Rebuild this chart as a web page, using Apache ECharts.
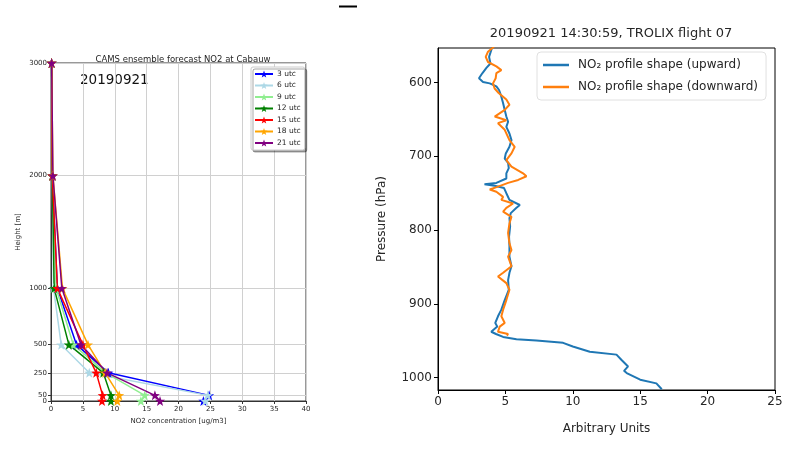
<!DOCTYPE html>
<html><head><meta charset="utf-8">
<script src="https://cdn.jsdelivr.net/npm/echarts@6/dist/echarts.min.js"></script>
<style>html,body{margin:0;padding:0;background:#fff}#c{width:801px;height:450px}</style>
</head><body><div id="c"></div>
<script>
// ---------- Left panel data (CAMS forecast) ----------
const heights = [0, 50, 250, 500, 1000, 2000, 3000];
const heightTicks = [0, 50, 250, 500, 1000, 2000, 3000];
const heightLabelsMain = [0, 250, 500, 1000, 2000, 3000];
const heightLabelsExtra = [50];
const camsNames = ['3 utc', '6 utc', '9 utc', '12 utc', '15 utc', '18 utc', '21 utc'];
const utc03 = [23.9, 24.8, 9.0, 4.0, 1.0, 0.2, 0.1];
const utc06 = [24.2, 24.6, 6.0, 1.6, 0.4, 0.2, 0.1];
const utc09 = [14.1, 14.7, 8.6, 3.5, 0.8, 0.2, 0.1];
const utc12 = [9.4, 9.4, 8.2, 2.8, 0.5, 0.2, 0.1];
const utc15 = [8.0, 8.1, 7.1, 5.0, 1.0, 0.2, 0.1];
const utc18 = [10.4, 10.7, 8.5, 5.8, 1.8, 0.3, 0.1];
const utc21 = [17.1, 16.3, 8.8, 4.7, 1.7, 0.3, 0.1];
const camsValues = [utc03, utc06, utc09, utc12, utc15, utc18, utc21];
const camsColors = ['#0000ff', '#add8e6', '#90ee90', '#008000', '#ff0000', '#ffa500', '#800080'];

// ---------- Right panel data (TROLIX profile) ----------
const pressureTicks = [600, 700, 800, 900, 1000];
const upP = [550, 553, 565, 574, 580, 587, 594, 599, 601, 605, 610, 619, 628, 637, 646, 653, 660, 669, 678, 687, 696, 703, 709, 716, 723, 730, 736, 738, 740, 743, 750, 759, 766, 770, 777, 784, 795, 809, 822, 836, 849, 858, 868, 881, 895, 908, 917, 926, 931, 938, 941, 945, 948, 950, 953, 958, 965, 969, 976, 985, 991, 994, 1003, 1008, 1016];
const upV = [4.1, 4.0, 3.79, 3.89, 3.59, 3.3, 3.04, 3.34, 3.84, 4.33, 4.53, 4.7, 4.83, 4.95, 5.07, 5.2, 5.07, 5.3, 5.45, 5.3, 5.03, 4.95, 5.2, 5.25, 5.07, 5.07, 4.33, 3.45, 4.2, 4.9, 5.07, 5.3, 6.07, 5.8, 5.4, 5.3, 5.35, 5.27, 5.3, 5.3, 5.45, 5.3, 5.2, 5.25, 4.95, 4.7, 4.45, 4.25, 4.4, 3.95, 4.3, 4.83, 5.82, 7.3, 9.28, 10.0, 11.26, 13.24, 13.6, 14.1, 13.8, 14.0, 15.0, 16.2, 16.6];
const downP = [550, 553, 558, 565, 572, 578, 583, 587, 594, 601, 608, 614, 623, 630, 637, 646, 651, 655, 664, 678, 687, 696, 705, 714, 723, 727, 732, 736, 741, 745, 748, 755, 759, 764, 770, 775, 782, 791, 804, 818, 827, 836, 849, 858, 863, 872, 881, 895, 908, 917, 926, 931, 938, 941, 943];
const downV = [4.2, 4.03, 3.71, 3.54, 3.71, 4.33, 4.7, 4.33, 4.28, 4.08, 4.2, 4.5, 5.07, 5.3, 4.95, 4.21, 5.07, 4.45, 4.95, 5.3, 5.69, 5.45, 5.07, 5.45, 6.31, 6.56, 5.95, 5.2, 4.45, 3.84, 4.33, 4.83, 4.7, 5.57, 5.07, 4.83, 5.45, 5.3, 5.2, 5.3, 5.45, 5.2, 5.45, 4.83, 4.45, 5.07, 5.3, 5.07, 4.83, 4.7, 4.95, 4.58, 4.45, 5.2, 5.1];
const profileNames = ['NO\u2082 profile shape (upward)', 'NO\u2082 profile shape (downward)'];

// star symbol path
function starPath() {
  const pts = [];
  for (let i = 0; i < 10; i++) {
    const a = -Math.PI / 2 + i * Math.PI / 5;
    const r = i % 2 === 0 ? 50 : 20;
    pts.push((50 + r * Math.cos(a)).toFixed(2) + ' ' + (50 + r * Math.sin(a)).toFixed(2));
  }
  return 'path://M' + pts.join(' L') + ' Z';
}
const STAR = starPath();
const FONT = 'DejaVu Sans';
const TXT = '#262626';
const plain = v => String(v);

const chart = echarts.init(document.getElementById('c'), null, {renderer: 'canvas'});

const series = [];
camsNames.forEach((n, k) => {
  series.push({
    name: n, type: 'line', xAxisIndex: 0, yAxisIndex: 0,
    data: heights.map((h, i) => [camsValues[k][i], h]),
    symbol: STAR, symbolSize: 10, showSymbol: true,
    lineStyle: {width: 1.5, color: camsColors[k]},
    itemStyle: {color: camsColors[k]},
    emphasis: {disabled: true}, animation: false
  });
});
series.push({
  name: profileNames[0], type: 'line', xAxisIndex: 1, yAxisIndex: 1,
  data: upP.map((p, i) => [upV[i], p]), showSymbol: false, symbol: 'none',
  lineStyle: {width: 2, color: '#1f77b4'}, itemStyle: {color: '#1f77b4'}, animation: false
});
series.push({
  name: profileNames[1], type: 'line', xAxisIndex: 1, yAxisIndex: 1,
  data: downP.map((p, i) => [downV[i], p]), showSymbol: false, symbol: 'none',
  lineStyle: {width: 2, color: '#ff7f0e'}, itemStyle: {color: '#ff7f0e'}, animation: false
});

const option = {
  animation: false,
  textStyle: {fontFamily: FONT},
  title: [
    {text: 'CAMS ensemble forecast NO2 at Cabauw', left: 178, top: 50, textAlign: 'center',
     textStyle: {fontFamily: FONT, fontSize: 8.5, fontWeight: 'normal', color: TXT}},
    {text: '20190921 14:30:59, TROLIX flight 07', left: 606, top: 22, textAlign: 'center',
     textStyle: {fontFamily: FONT, fontSize: 13, fontWeight: 'normal', color: TXT}}
  ],
  grid: [
    {left: 51, top: 63, width: 255, height: 338, show: true, borderColor: '#333', borderWidth: 1, backgroundColor: 'transparent'},
    {left: 438, top: 48, width: 337, height: 342, show: true, borderColor: '#000', borderWidth: 1, backgroundColor: 'transparent'}
  ],
  xAxis: [
    {type: 'value', gridIndex: 0, min: 0, max: 40, interval: 5,
     name: 'NO2 concentration [ug/m3]', nameLocation: 'middle', nameGap: 17,
     nameTextStyle: {fontSize: 7, color: TXT, fontFamily: FONT},
     axisLine: {lineStyle: {color: '#333', width: 1}},
     axisTick: {show: true, length: 3, lineStyle: {color: '#333'}},
     axisLabel: {fontSize: 7, color: TXT, margin: 5, fontFamily: FONT, formatter: plain},
     splitLine: {show: true, lineStyle: {color: '#d0d0d0', width: 1}}},
    {type: 'value', gridIndex: 1, min: 0, max: 25, interval: 5,
     name: 'Arbitrary Units', nameLocation: 'middle', nameGap: 33,
     nameTextStyle: {fontSize: 12, color: TXT, fontFamily: FONT},
     axisLine: {lineStyle: {color: '#000', width: 1}},
     axisTick: {show: true, length: 4, lineStyle: {color: '#000'}},
     axisLabel: {fontSize: 12, color: TXT, margin: 6, fontFamily: FONT, formatter: plain},
     splitLine: {show: false}}
  ],
  yAxis: [
    {type: 'value', gridIndex: 0, min: 0, max: 3000,
     name: 'Height [m]', nameLocation: 'middle', nameGap: 29, nameRotate: 90,
     nameTextStyle: {fontSize: 7, color: TXT, fontFamily: FONT},
     axisLine: {show: true, lineStyle: {color: '#333', width: 1}},
     axisTick: {show: true, length: 3, customValues: heightTicks, lineStyle: {color: '#333'}},
     axisLabel: {fontSize: 7, color: TXT, margin: 4, customValues: heightLabelsMain, fontFamily: FONT,
                 formatter: plain, hideOverlap: false, showMinLabel: true, showMaxLabel: true},
     splitLine: {show: true, lineStyle: {color: '#d0d0d0', width: 1}}},
    {type: 'value', gridIndex: 1, min: 553, max: 1017, inverse: true,
     name: 'Pressure (hPa)', nameLocation: 'middle', nameGap: 50, nameRotate: 90,
     nameTextStyle: {fontSize: 12, color: TXT, fontFamily: FONT},
     axisLine: {show: true, lineStyle: {color: '#000', width: 1}},
     axisTick: {show: true, length: 4, customValues: pressureTicks, lineStyle: {color: '#000'}},
     axisLabel: {fontSize: 12, color: TXT, margin: 6, customValues: pressureTicks, fontFamily: FONT, formatter: plain},
     splitLine: {show: false}},
    {type: 'value', gridIndex: 0, min: 0, max: 3000, position: 'left', offset: 0,
     axisLine: {show: false}, axisTick: {show: false}, splitLine: {show: false},
     axisLabel: {fontSize: 7, color: TXT, margin: 4, customValues: heightLabelsExtra, fontFamily: FONT,
                 formatter: plain, hideOverlap: false, showMinLabel: true, showMaxLabel: true}}
  ],
  legend: [
    {data: camsNames, orient: 'vertical', left: 251, top: 67,
     itemWidth: 18, itemHeight: 9, itemGap: 3.5, padding: [3, 4, 3, 3],
     backgroundColor: '#fff', borderColor: '#cccccc', borderWidth: 1, borderRadius: 2,
     shadowColor: 'rgba(0,0,0,0.35)', shadowOffsetX: 2, shadowOffsetY: 2, shadowBlur: 0,
     textStyle: {fontSize: 7.5, color: TXT, fontFamily: FONT, padding: [0, 0, 0, -1]},
     selectedMode: false},
    {data: profileNames, orient: 'vertical', left: 537, top: 52,
     icon: 'rect', itemWidth: 26, itemHeight: 2.5, itemGap: 10, padding: [7, 8, 7, 6],
     backgroundColor: 'rgba(255,255,255,0.8)', borderColor: '#e0e0e0', borderWidth: 1, borderRadius: 4,
     textStyle: {fontSize: 12, color: TXT, fontFamily: FONT, padding: [0, 0, 0, 4]},
     selectedMode: false}
  ],
  graphic: [
    {type: 'text', left: 80, top: 73, style: {text: '20190921', fontSize: 13.5, fontFamily: FONT, fill: '#111'}},
    {type: 'rect', shape: {x: 339, y: 5.5, width: 18, height: 2}, style: {fill: '#000'}}
  ],
  series: series
};
chart.setOption(option);
</script>
</body></html>
